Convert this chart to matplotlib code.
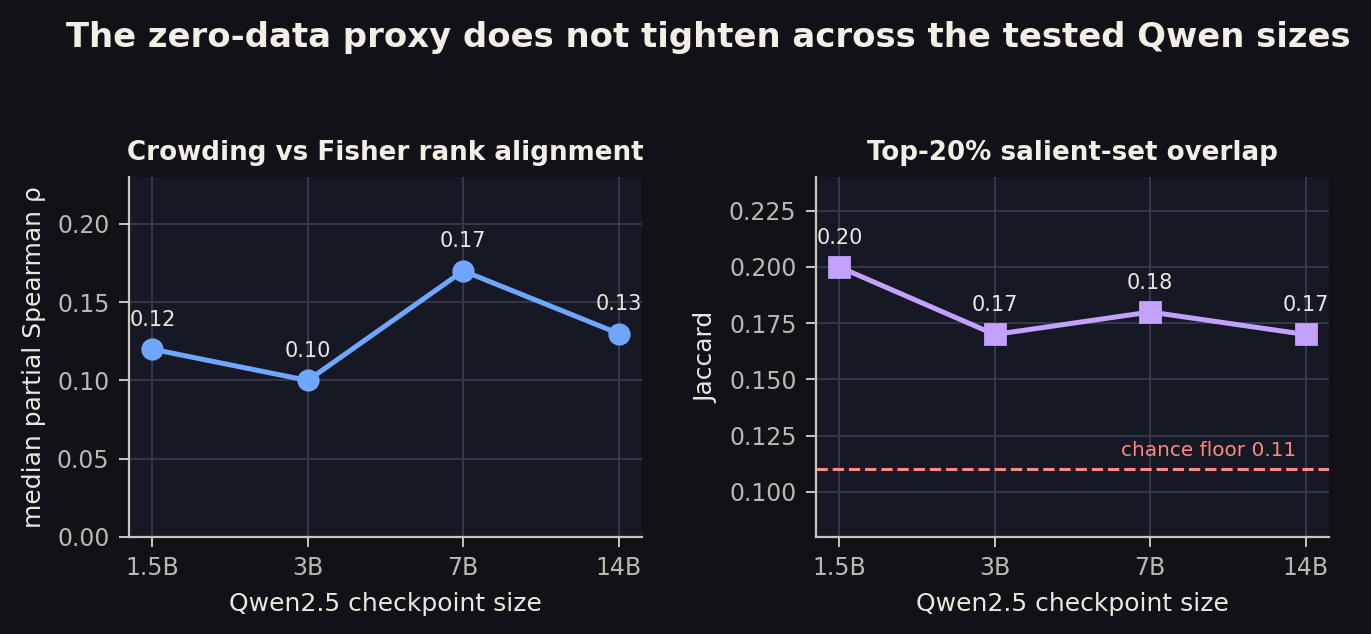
import matplotlib
matplotlib.use("Agg")
import matplotlib.pyplot as plt

sizes = ["1.5B", "3B", "7B", "14B"]
spearman = [0.12, 0.10, 0.17, 0.13]
jaccard = [0.20, 0.17, 0.18, 0.17]
chance_floor = 0.11

FIG_BG = "#111217"
AX_BG = "#161923"
GRID = "#353846"
SPINE = "#c9c5bd"
TICK = "#bcb8b0"
LABEL = "#ece8e0"
TITLE = "#f4efe6"
BLUE = "#6fa6ff"
PURPLE = "#c3a2ff"
RED = "#ff8a80"

plt.rcParams['font.family'] = ['DejaVu Sans']
fig = plt.figure(figsize=(6.855, 3.17), dpi=200, facecolor=FIG_BG)
W, H = 1371, 634
ax1 = fig.add_axes([129 / W, 1 - 537 / H, 513 / W, 360 / H])
ax2 = fig.add_axes([816 / W, 1 - 537 / H, 513 / W, 360 / H])

fig.text(0.5 + 0.0165, 1 - 38 / H, "The zero-data proxy does not tighten across the tested Qwen sizes",
         ha="center", va="center", fontsize=12.2, fontweight="bold", color=TITLE)

x = list(range(len(sizes)))

def style(ax):
    ax.set_facecolor(AX_BG)
    for s in ["top", "right"]:
        ax.spines[s].set_visible(False)
    for s in ["left", "bottom"]:
        ax.spines[s].set_color(SPINE)
        ax.spines[s].set_linewidth(0.8)
    ax.grid(True, color=GRID, linewidth=0.7)
    ax.set_axisbelow(True)
    ax.tick_params(colors=SPINE, labelcolor=TICK, labelsize=8.5, length=3.5, width=0.7)
    ax.set_xticks(x)
    ax.set_xticklabels(sizes)
    ax.set_xlim(-0.15, 3.15)
    ax.set_xlabel("Qwen2.5 checkpoint size", color=LABEL, fontsize=9, labelpad=4)

style(ax1)
ax1.plot(x, spearman, color=BLUE, linewidth=1.8, marker="o", markersize=7, zorder=3)
for xi, v in zip(x, spearman):
    ax1.annotate(f"{v:.2f}", (xi, v), xytext=(0, 7), textcoords="offset points",
                 ha="center", va="bottom", fontsize=7.5, color=LABEL)
ax1.set_ylim(0, 0.23)
ax1.set_yticks([0.0, 0.05, 0.10, 0.15, 0.20])
ax1.set_ylabel("median partial Spearman ρ", color=LABEL, fontsize=9)
ax1.set_title("Crowding vs Fisher rank alignment", color=TITLE, fontsize=9.4, fontweight="bold", pad=6)

style(ax2)
ax2.axhline(chance_floor, color=RED, linestyle="--", linewidth=1.1, zorder=2)
ax2.text(2.94, chance_floor + 0.004, f"chance floor {chance_floor:.2f}", ha="right", va="bottom",
         fontsize=7.2, color=RED)
ax2.plot(x, jaccard, color=PURPLE, linewidth=1.8, marker="s", markersize=7, zorder=3)
for xi, v in zip(x, jaccard):
    ax2.annotate(f"{v:.2f}", (xi, v), xytext=(0, 7), textcoords="offset points",
                 ha="center", va="bottom", fontsize=7.5, color=LABEL)
ax2.set_ylim(0.08, 0.24)
ax2.set_yticks([0.100, 0.125, 0.150, 0.175, 0.200, 0.225])
ax2.set_yticklabels([f"{t:.3f}" for t in [0.100, 0.125, 0.150, 0.175, 0.200, 0.225]])
ax2.set_ylabel("Jaccard", color=LABEL, fontsize=9)
ax2.set_title("Top-20% salient-set overlap", color=TITLE, fontsize=9.4, fontweight="bold", pad=6)

fig.savefig("out.png", dpi=200, facecolor=FIG_BG)
